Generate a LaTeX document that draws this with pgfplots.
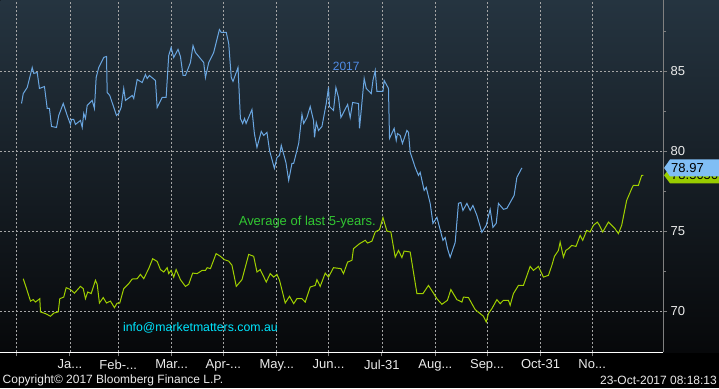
\documentclass[border=0pt]{standalone}
\usepackage{fontspec}
\setmainfont{Liberation Sans}
\usepackage{pgfplots}
\pgfplotsset{compat=1.18}
\newcommand{\dd}{...}
\definecolor{bgtop}{RGB}{37,52,64}
\definecolor{bgbot}{RGB}{7,8,10}
\definecolor{bline}{RGB}{106,166,224}
\definecolor{gline}{RGB}{160,208,0}
\definecolor{gridc}{RGB}{165,165,165}
\definecolor{tagblue}{RGB}{128,190,245}
\definecolor{taggreen}{RGB}{153,204,0}
\definecolor{txtblue}{RGB}{80,140,230}
\definecolor{txtgreen}{RGB}{50,200,50}
\definecolor{txtcyan}{RGB}{0,230,255}
\definecolor{lbl}{RGB}{235,235,235}
\begin{document}
\begin{tikzpicture}
\fill[black] (0pt,0pt) rectangle (719pt,388pt);
\shade[top color=bgtop,bottom color=bgbot] (0pt,36pt) rectangle (719pt,388pt);
\begin{axis}[
  at={(0pt,36pt)}, anchor=south west,
  scale only axis, width=663pt, height=352pt,
  xmin=-9.3, xmax=375.1, ymin=67.44, ymax=89.44,
  clip=false,
  axis x line*=bottom, axis y line*=right,
  x axis line style={white, line width=1pt},
  y axis line style={gray, line width=1pt},
  xtick={0,31,59,90,120,151,181,212,243,273,304,334},
  xticklabels={{},{Ja\dd},{Feb-\dd},{Mar\dd},{Apr-\dd},{May\dd},{Jun\dd},{Jul-31},{Aug\dd},{Sep\dd},{Oct-31},{No\dd}},
  ytick={70,75,80,85},
  minor ytick={72.5,77.5,82.5,87.5},
  xmajorgrids, ymajorgrids,
  major grid style={gridc, line width=0.7pt, dash pattern=on 2pt off 2pt},
  tick align=outside,
  major tick length=4pt, minor tick length=3pt,
  tick style={gray, line width=1pt},
  /pgf/number format/assume math mode=true,
  ticklabel style={font=\fontsize{13}{15}\selectfont, text=lbl},
]
\addplot[bline, line width=1pt] coordinates {
(2.9,83.0) (3.9,83.62) (6.2,84.0) (9.1,85.25) (10.0,84.88) (12.0,84.94) (13.3,83.94) (16.2,84.06) (17.8,82.69) (19.1,82.69) (20.3,81.56) (23.2,81.5) (24.5,82.25) (27.1,83.0) (29.4,82.25) (31.3,81.69) (31.9,82.0) (33.2,82.0) (34.2,81.69) (37.1,81.94) (38.1,81.5) (39.0,82.38) (40.0,82.06) (41.0,82.88) (43.9,83.19) (45.2,82.69) (46.2,84.62) (47.7,85.25) (50.6,85.88) (52.2,85.94) (52.6,83.69) (54.1,83.5) (58.0,82.25) (59.3,82.38) (60.7,82.75) (62.2,83.94) (63.2,83.19) (67.1,83.5) (68.0,83.31) (70.0,84.5) (72.9,84.31) (74.8,84.81) (75.8,84.56) (77.1,84.75) (80.6,84.44) (81.6,82.75) (84.5,83.38) (86.8,83.38) (88.3,86.0) (89.7,86.5) (91.2,85.88) (93.7,86.38) (95.1,85.94) (96.6,84.75) (98.0,84.75) (100.9,85.56) (102.4,86.62) (103.8,86.19) (108.6,85.56) (109.6,84.62) (111.5,85.56) (114.4,86.19) (117.7,87.62) (118.8,87.44) (121.7,87.44) (123.1,86.75) (124.6,84.62) (125.6,84.38) (128.5,85.25) (129.9,82.06) (131.2,81.75) (132.3,82.06) (133.2,81.75) (136.6,82.62) (138.0,81.12) (139.5,80.25) (142.0,81.25) (143.4,81.0) (145.3,81.19) (146.8,80.06) (149.6,78.94) (151.1,79.62) (152.6,79.75) (153.6,80.38) (156.3,79.31) (157.9,78.19) (159.8,79.25) (160.8,79.25) (163.7,80.5) (165.6,82.31) (166.6,81.75) (168.5,82.12) (170.4,82.81) (172.3,81.94) (172.9,80.88) (173.9,81.81) (175.2,81.31) (177.2,81.56) (179.7,83.0) (181.0,84.0) (181.6,82.81) (183.9,82.56) (185.3,84.0) (186.8,83.38) (188.2,82.12) (192.1,82.94) (193.6,82.12) (195.0,83.06) (198.4,83.0) (199.0,81.44) (201.7,84.56) (202.9,83.94) (205.8,83.62) (206.8,84.44) (208.1,85.06) (209.1,83.75) (212.6,83.75) (213.3,84.44) (215.8,83.94) (216.4,80.81) (219.1,81.44) (220.3,80.69) (221.0,81.12) (222.6,81.0) (223.9,80.5) (226.5,81.31) (227.4,81.19) (228.4,79.94) (231.3,79.0) (233.2,78.5) (234.2,78.69) (236.5,77.56) (237.7,77.75) (240.0,76.75) (241.6,75.5) (243.9,75.88) (247.4,74.44) (248.7,74.62) (250.0,73.94) (251.6,73.38) (254.5,74.31) (256.4,76.75) (257.8,76.81) (259.0,76.31) (261.3,76.75) (263.2,76.31) (264.8,76.62) (267.1,76.0) (270.0,74.94) (272.5,75.38) (274.8,76.38) (276.4,75.25) (278.3,75.5) (279.6,76.75) (282.5,76.38) (284.5,76.44) (288.7,77.25) (290.3,78.38) (293.2,78.97)
};
\addplot[gline, line width=1pt] coordinates {
(3.9,72.04) (5.8,71.42) (8.1,70.64) (9.7,70.73) (11.0,70.58) (13.5,70.79) (13.9,69.96) (16.8,69.86) (19.7,69.69) (21.6,69.89) (24.2,69.96) (25.1,70.79) (27.4,70.89) (28.8,71.48) (31.3,71.36) (33.6,71.14) (37.1,71.56) (38.7,71.42) (40.0,70.79) (41.3,71.21) (43.3,71.11) (45.8,71.94) (46.8,71.69) (48.1,70.52) (50.3,70.86) (52.2,70.52) (54.5,70.64) (56.8,70.23) (58.4,70.52) (59.9,70.52) (62.2,71.42) (65.1,71.73) (67.1,72.02) (70.0,72.04) (71.9,72.31) (73.8,72.04) (76.7,72.67) (79.0,73.29) (81.6,73.12) (83.5,72.61) (85.4,72.46) (87.4,72.73) (88.3,72.36) (89.7,72.56) (91.2,72.14) (92.6,72.61) (95.1,71.98) (98.0,71.56) (99.9,71.69) (102.2,72.39) (104.8,72.36) (107.7,72.56) (109.6,72.56) (110.6,72.73) (112.5,72.67) (115.8,73.61) (118.3,73.44) (120.6,73.23) (123.1,73.14) (125.0,72.88) (127.5,71.56) (130.8,71.98) (134.7,73.56) (137.6,73.44) (139.5,72.46) (141.4,72.61) (144.9,71.83) (147.2,72.36) (149.2,72.14) (151.1,72.31) (152.6,71.94) (155.9,70.52) (158.4,70.94) (160.8,70.48) (162.7,70.79) (165.6,70.79) (167.5,70.58) (170.4,71.52) (173.3,71.62) (174.3,71.98) (176.2,71.56) (179.1,72.39) (181.0,72.14) (183.9,72.73) (188.2,72.67) (189.7,72.36) (192.1,73.08) (194.6,73.19) (195.5,73.92) (199.0,74.23) (202.3,74.44) (203.7,74.27) (206.2,74.39) (208.1,74.96) (210.6,75.11) (212.6,75.86) (214.9,75.02) (217.2,74.96) (219.7,73.39) (221.6,73.81) (223.6,73.36) (224.9,73.77) (228.4,73.71) (232.3,71.11) (235.8,71.11) (239.0,71.62) (241.9,71.14) (243.9,70.79) (246.8,70.44) (250.0,70.69) (252.0,71.36) (255.5,70.73) (258.4,70.58) (259.3,70.89) (262.2,70.86) (266.1,70.11) (270.9,69.69) (272.5,69.33) (273.8,69.86) (275.8,70.17) (278.7,70.73) (280.6,70.48) (282.5,70.69) (285.4,70.69) (286.4,70.38) (288.3,71.11) (291.2,71.62) (294.1,71.62) (298.0,72.81) (299.9,72.56) (302.8,72.81) (305.7,72.14) (308.6,72.25) (310.6,72.88) (312.1,73.44) (314.4,73.81) (315.4,74.33) (317.3,73.39) (318.7,73.81) (320.2,73.92) (322.1,74.12) (324.6,74.06) (327.0,74.75) (328.5,74.44) (330.8,75.06) (332.8,74.96) (334.7,75.38) (337.0,75.58) (338.2,75.38) (340.1,74.96) (343.4,75.58) (345.3,75.38) (347.2,75.17) (349.2,74.86) (351.1,75.38) (354.0,76.94) (356.9,77.67) (357.9,77.88) (360.8,77.88) (362.7,78.5) (363.7,78.51)
};
\node[text=txtblue, font=\fontsize{12}{14}\selectfont] at (axis cs:191.3,85.31) {2017};
\node[text=txtgreen, font=\fontsize{13}{15}\selectfont] at (axis cs:168.7,75.56) {Average of last 5-years.};
\node[text=txtcyan, font=\fontsize{12.3}{14}\selectfont] at (axis cs:106.7,68.94) {info@marketmatters.com.au};
% value tags
\fill[taggreen] ([xshift=1pt]axis cs:375.1,78.5056) -- ([xshift=7pt,yshift=8pt]axis cs:375.1,78.5056) -- ([xshift=56pt,yshift=8pt]axis cs:375.1,78.5056) -- ([xshift=56pt,yshift=-8pt]axis cs:375.1,78.5056) -- ([xshift=7pt,yshift=-8pt]axis cs:375.1,78.5056) -- cycle;
\node[anchor=west, inner sep=0pt, font=\fontsize{13}{15}\selectfont, text=black] at ([xshift=8pt]axis cs:375.1,78.5056) {78.5056};
\fill[tagblue] ([xshift=1pt]axis cs:375.1,78.97) -- ([xshift=7pt,yshift=8.5pt]axis cs:375.1,78.97) -- ([xshift=56pt,yshift=8.5pt]axis cs:375.1,78.97) -- ([xshift=56pt,yshift=-8.5pt]axis cs:375.1,78.97) -- ([xshift=7pt,yshift=-8.5pt]axis cs:375.1,78.97) -- cycle;
\node[anchor=west, inner sep=0pt, font=\fontsize{13}{15}\selectfont, text=black] at ([xshift=8pt]axis cs:375.1,78.97) {78.97};
\end{axis}
\node[anchor=west, text=lbl, font=\fontsize{12}{14}\selectfont, inner sep=0pt] at (2pt,8pt) {Copyright© 2017 Bloomberg Finance L.P.};
\node[anchor=east, text=lbl, font=\fontsize{12}{14}\selectfont, inner sep=0pt] at (717pt,8pt) {23-Oct-2017 08:18:13};
\end{tikzpicture}
\end{document}
